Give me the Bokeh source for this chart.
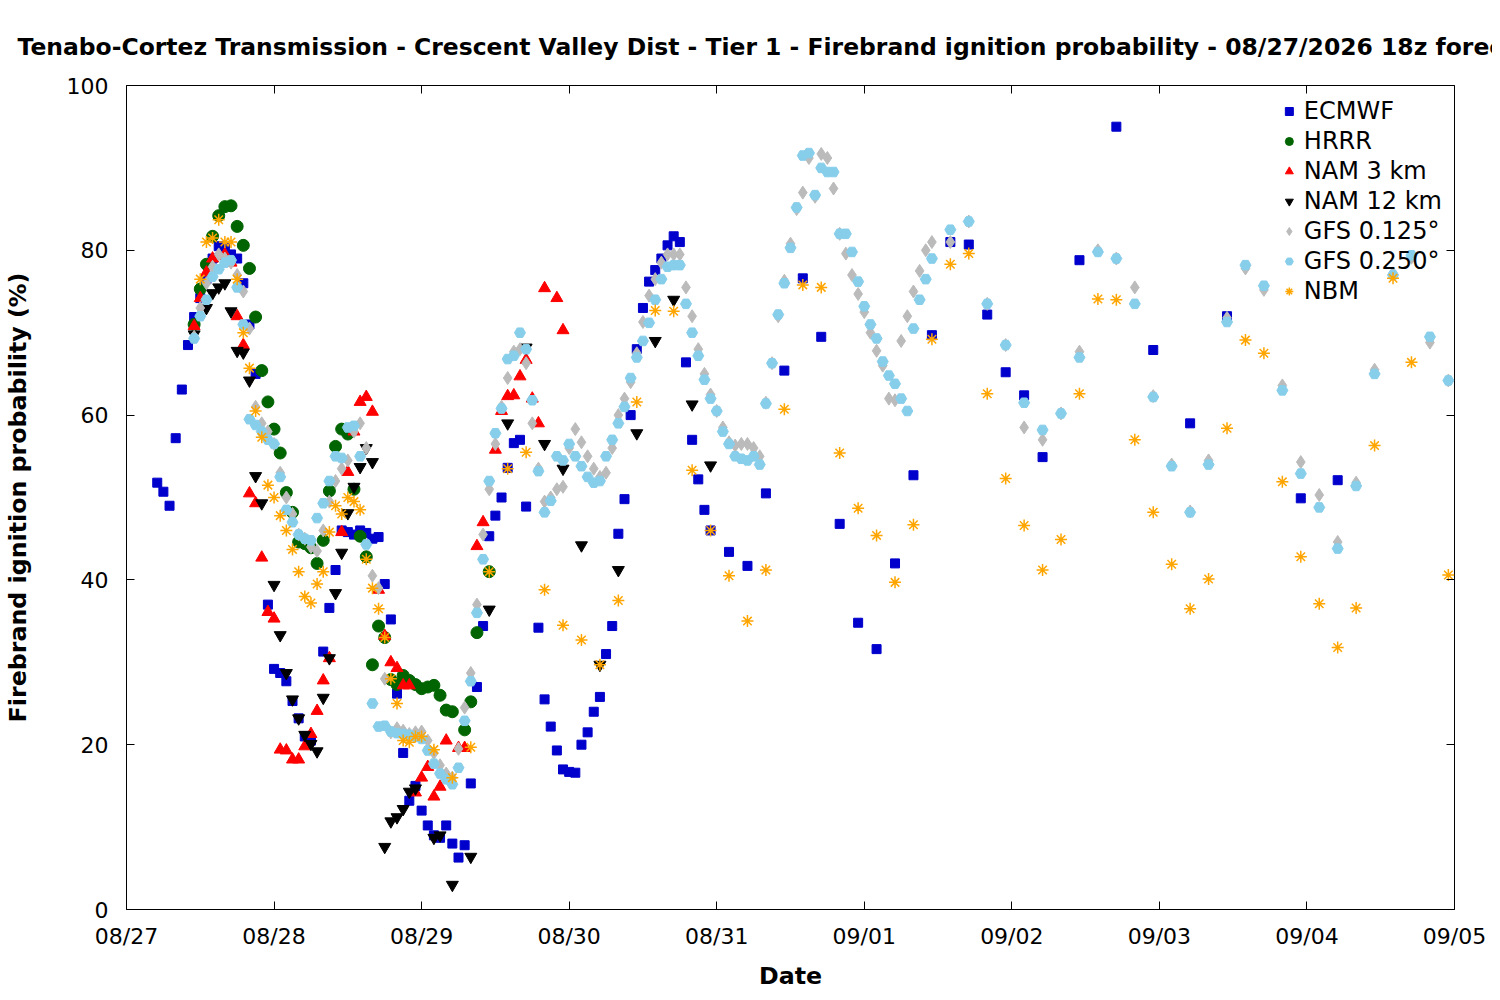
from bokeh.plotting import figure
from bokeh.models import Legend, LegendItem, FixedTicker, LinearAxis
from bokeh.embed import file_html
from bokeh.resources import INLINE

tick_labels = ["08/27","08/28","08/29","08/30","08/31","09/01","09/02","09/03","09/04","09/05"]

ecmwf_h = [5,6,7,8,9,10,11,12,13,14,15,16,17,18,19,20,21,23,24,25,26,27,28,29,30,32,33,34,35,36,37,38,39,40,41,42,43,44,45,46,47,48,49,50,51,52,53,54,55,56,57,58,59,60,61,62,63,64,65,67,68,69,70,71,72,73,74,75,76,77,78,79,80,81,82,83,84,85,86,87,88,89,90,91,92,93,94,95,98,101,104,107,110,113,116,119,122,125,128,131,134,137,140,143,146,149,155,161,167,173,179,191,197]
ecmwf_v = [51.8,50.7,49,57.2,63.1,68.5,71.9,74.2,76.5,79,80.5,80.3,79.5,79,76,71,65,37,29.2,28.7,27.7,25.3,23.2,21,20.5,31.3,36.6,41.2,46,45.8,45.5,46,45.7,45,45.2,39.5,35.2,26.2,19,13.2,15,12,10.2,9,8.7,10.2,8,6.3,7.8,15.3,27,34.4,45.3,47.8,50,53.6,56.6,57,48.9,34.2,25.5,22.2,19.3,17,16.7,16.6,20,21.5,24,25.8,31,34.4,45.6,49.8,60,68,73,76.2,77.6,79,80.6,81.7,81,66.4,57,52.2,48.5,46,43.4,41.7,50.5,65.4,76.6,69.5,46.8,34.8,31.6,42,52.7,69.7,81,80.7,72.2,65.2,62.4,54.9,78.8,95,67.9,59,72,49.9,52.1]

hrrr_h = [11,12,13,14,15,16,17,18,19,20,21,22,23,24,25,26,27,28,29,30,31,32,33,34,35,36,37,38,39,40,41,42,43,44,45,46,47,48,49,50,51,52,53,55,56,57,59]
hrrr_v = [71,75.3,78.3,81.7,84.2,85.3,85.4,82.9,80.6,77.8,71.9,65.4,61.6,58.3,55.4,50.6,48.2,44.6,44.4,43.9,42,44.8,50.8,56.2,58.3,57.7,51,45.3,42.8,29.7,34.4,33,27.9,27.3,28.4,27.8,27.3,26.8,27,27.2,26,24.2,24,21.8,25.2,33.6,41]

nam3_h = [11,12,13,14,15,16,17,18,19,20,21,22,23,24,25,26,27,28,29,30,31,32,33,35,36,37,38,39,40,41,42,43,44,45,46,47,48,49,50,51,52,54,55,57,58,60,61,62,63,64,65,66,67,68,70,71]
nam3_v = [70.8,74.2,77.3,79,79.3,79.5,78.5,72,68.5,50.5,49.3,42.7,36.1,35.3,19.4,19.3,18.2,18.2,19.8,21.3,24.1,27.8,30.5,45.8,53.1,58,61.6,62.2,60.4,38.8,33.2,30,29.3,27.2,27.2,14.2,16,17.3,13.7,14.9,20.5,19.6,19.6,44.1,47,55.8,60.5,62.3,62.4,64.7,66.7,62,59,75.4,74.2,70.3]

nam12_h = [11,13,14,15,16,17,18,19,20,21,22,24,25,26,27,28,29,30,31,32,33,34,35,36,37,38,39,40,42,43,44,45,46,47,50,51,53,56,59,62,65,68,71,74,77,80,83,86,89,92,95]
nam12_v = [69.8,73,74.8,75.5,76,72.6,67.8,67.6,64.2,52.6,49.3,39.4,33.3,28.7,25.5,23.2,21.2,20.1,19.2,25.7,30.5,38.4,43.3,48.1,51.3,53.7,56,54.3,7.6,10.7,11.2,12.2,14.3,14.7,8.7,9,3,6.4,36.4,59,68.2,56.5,53.5,44.2,29.7,41.2,57.8,69,74,61.3,53.9]

gfs_3h = [134,137,140,143,146,149,152,155,158,161,164,167,170,173,176,179,182,185,188,191,194,197,200,203,206,209,212,215]
gfs125_h = list(range(11, 132)) + gfs_3h
gfs125_v = [69.5,73,76,78,79.5,79,78.5,77,75,70.5,
            61,59,58,56.5,53,50,48,45.5,45,44,
            43.5,46,49.5,52,53.5,54.5,58,59,56,40.5,
            39,28,21.5,22,21.7,21.3,21.5,21.6,20.5,19,
            17.5,16.5,16,19.5,24.5,28.7,37,45.5,51,56.5,
            61,64.5,67.7,68,66.3,59,53.5,49.5,50,51,
            51.3,56,58.3,56.7,55,53.5,52.5,53,56,60,
            62,64,67.5,71.3,74.5,76.5,78.5,79.5,79.5,79.5,
            75.5,72,68,65,62.5,60.5,58.5,56.7,56.3,56.5,
            56.5,56,55,61.5,66.3,72,76.3,80.8,85,87,
            91.2,86.5,91.7,91.2,87.5,82,79.6,77,74.7,72.5,
            70,67.8,66,62,61.8,69,72,75,77.5,80,81,
            81,83.5,73.5,68.5,58.5,57,60.2,67.7,80,79,75.5,62.3,54,48.3,54.5,71.8,77.8,75.2,63.6,54.3,50.3,44.6,51.8,65.5,77.2,79.1,68.8,64.2]

gfs250_h = list(range(11, 132)) + gfs_3h
gfs250_v = [69.3,72,74,76.8,77.7,78.5,78.8,75.5,71,59.5,
            58.8,58,57,56.5,52.5,48.5,47,45.5,45,44.8,
            47.5,49.3,52,55,54.8,58.5,58.7,55,44.3,25,
            22.2,22.3,21.6,21.4,21.3,21.2,21,20.7,19.3,17.7,
            16.5,15.8,15.2,17.2,22.9,27.7,36,42.5,52,57.8,
            60.8,66.8,67.2,70,68,61.8,53.2,48.2,49.6,55,
            54.5,56.5,55,53.8,52.5,51.8,52,55,57,59,
            61,64.5,67,69,71.2,74,76.5,78,78.2,78.2,
            73.5,70,67.2,64.3,62,60.5,58,56.5,55,54.7,
            54.5,55,54,61.4,66.3,72.2,76,80.3,85.2,91.5,
            91.8,86.7,90,89.5,89.5,82,82,79.8,76.2,73.2,
            71,69.3,66.5,64.8,63.8,62,60.5,70.5,74,76.5,79,
            82.5,83.5,73.5,68.5,61.5,58.2,60.2,67,79.8,79,73.5,62.2,53.8,48.2,54,71.3,78.2,75.7,63,52.9,48.8,43.8,51.4,65,77,79.4,69.5,64.2]

nbm_h = [12,13,14,15,16,17,18,19,20,21,22,23,24,25,26,27,28,29,30,31,32,33,34,35,36,37,38,39,40,41,42,43,44,45,46,47,48,50,53,56,59,62,65,68,71,74,77,80,83,86,89,92,95,98,101,104,107,110,113,116,119,122,125,128,131,134,137,140,143,146,149,152,155,158,161,164,167,170,173,176,179,182,185,188,191,194,197,200,203,206,209,215]
nbm_v = [76.5,81,81.5,83.7,81,81,76.5,70,65.7,60.5,57.3,51.5,50,47.8,46,43.7,41,38,37.2,39.5,41,45.8,49,48,50,49.5,48.5,42.5,39,36.5,33,28,25,20.5,20.3,21,21,19.4,16,19.7,41,53.5,55.5,38.8,34.5,32.7,29.7,37.5,61.6,72.7,72.6,53.3,46,40.5,35,41.2,60.7,75.8,75.5,55.4,48.7,45.4,39.7,46.7,69.2,78.3,79.6,62.6,52.3,46.6,41.2,44.9,62.6,74.1,74,57,48.2,41.9,36.5,40.1,58.4,69.1,67.5,51.9,42.8,37.1,31.8,36.6,56.3,76.6,66.4,40.6]

p = figure(width=1492, height=992, output_backend="svg", toolbar_location=None,
           x_range=(0, 216), y_range=(0, 100),
           min_border_left=126, min_border_right=38, min_border_top=85, min_border_bottom=82,
           title="Tenabo-Cortez Transmission - Crescent Valley Dist - Tier 1 - Firebrand ignition probability - 08/27/2026 18z forecast")
p.title.text_font = "DejaVu Sans"
p.title.text_font_size = "17.6pt"
p.title.text_font_style = "bold"
p.title.text_color = "black"
p.title.align = "left"
p.title.offset = -109
p.title.standoff = 50
p.grid.visible = False
p.outline_line_color = "black"
p.outline_line_width = 1

top_ax = LinearAxis(ticker=FixedTicker(ticks=[24 * i for i in range(10)]))
right_ax = LinearAxis(ticker=FixedTicker(ticks=[0, 20, 40, 60, 80, 100]))
for ax in (top_ax, right_ax):
    ax.major_label_text_alpha = 0
    ax.major_label_text_font_size = "1pt"
p.add_layout(right_ax, "right")
p.add_layout(top_ax, "above")
for ax in p.xaxis + p.yaxis:
    ax.major_tick_in = 8
    ax.major_tick_out = 0
    ax.minor_tick_in = 0
    ax.minor_tick_out = 0
    ax.axis_line_color = None
for ax in (p.xaxis[1], p.yaxis[0]):
    ax.major_label_text_font = "DejaVu Sans"
    ax.major_label_text_font_size = "16.5pt"
    ax.major_label_text_color = "black"
    ax.major_label_standoff = 14
    ax.axis_label_text_font = "DejaVu Sans"
    ax.axis_label_text_font_size = "17.8pt"
    ax.axis_label_text_font_style = "bold"
    ax.axis_label_text_color = "black"
p.xaxis[1].ticker = FixedTicker(ticks=[24 * i for i in range(10)])
p.yaxis[0].ticker = FixedTicker(ticks=[0, 20, 40, 60, 80, 100])
p.xaxis[1].major_label_overrides = {24 * i: t for i, t in enumerate(tick_labels)}
p.xaxis[1].axis_label = "Date"
p.xaxis[1].axis_label_standoff = 10
p.yaxis[0].axis_label = "Firebrand ignition probability (%)"
p.yaxis[0].axis_label_standoff = 32
p.yaxis[0].major_label_standoff = 18

r1 = p.scatter(ecmwf_h, ecmwf_v, marker="square", size=9, color="#0000cc")
r2 = p.scatter(hrrr_h, hrrr_v, marker="circle", size=12, color="#006400")
r3 = p.scatter(nam3_h, nam3_v, marker="triangle", size=12, color="#ff0000")
r4 = p.scatter(nam12_h, nam12_v, marker="inverted_triangle", size=12, color="#000000")
r5 = p.scatter(gfs125_h, gfs125_v, marker="diamond", size=13, color="#bbbbbb")
r6 = p.scatter(gfs250_h, gfs250_v, marker="hex", size=11, color="#87ceeb")
r7 = p.scatter(nbm_h, nbm_v, marker="asterisk", size=12, line_color="#ffa500", line_width=1.5)

legend = Legend(items=[LegendItem(label=l, renderers=[r]) for l, r in [
    ("ECMWF", r1), ("HRRR", r2), ("NAM 3 km", r3), ("NAM 12 km", r4),
    ("GFS 0.125°", r5), ("GFS 0.250°", r6), ("NBM", r7)]],
    location="top_right", border_line_color=None, background_fill_alpha=0,
    label_text_font="DejaVu Sans", label_text_font_size="18pt", label_text_color="black",
    spacing=2, label_height=26, glyph_height=26, margin=12)
p.add_layout(legend)

open("out.html", "w").write(file_html(p, INLINE))
